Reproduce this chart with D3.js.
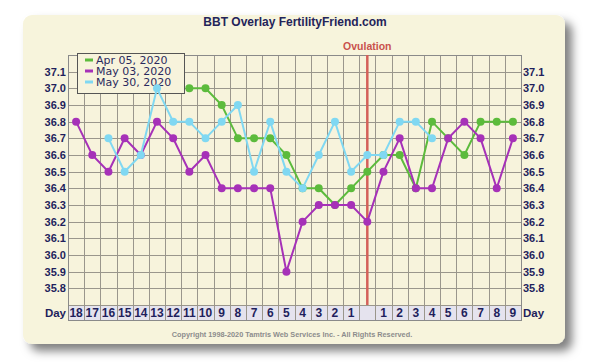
<!DOCTYPE html>
<html>
<head>
<meta charset="utf-8">
<style>
    body { margin: 0; background: #fff; }
    svg { display: block; }
    .ax text { font: bold 11px "Liberation Sans", Arial, sans-serif; fill: #1f1f5c; }
    .day text { font: bold 12px "Liberation Sans", Arial, sans-serif; fill: #1f1f5c; }
</style>
<script src="https://cdn.jsdelivr.net/npm/d3@7"></script>
</head>
<body>
<script>
// day labels, cycle days before / after ovulation
var days = ["18","17","16","15","14","13","12","11","10","9","8","7","6","5","4","3","2","1","","1","2","3","4","5","6","7","8","9"];
var ovulationIdx = 18;
var tempTicks = [35.8, 35.9, 36.0, 36.1, 36.2, 36.3, 36.4, 36.5, 36.6, 36.7, 36.8, 36.9, 37.0, 37.1];

// temps, first entry sits in column "start"
var apr05 = [37.0,37.0,36.9,36.7,36.7,36.7,36.6,36.4,36.4,36.3,36.4,36.5,36.6,36.6,36.4,36.8,36.7,36.6,36.8,36.8,36.8];
var apr05Start = 7;
var may03 = [36.8,36.6,36.5,36.7,36.6,36.8,36.7,36.5,36.6,36.4,36.4,36.4,36.4,35.9,36.2,36.3,36.3,36.3,36.2,36.5,36.7,36.4,36.4,36.7,36.8,36.7,36.4,36.7];
var may03Start = 0;
var may30 = [36.7,36.5,36.6,37.0,36.8,36.8,36.7,36.8,36.9,36.5,36.8,36.5,36.4,36.6,36.8,36.5,36.6,36.6,36.8,36.8,36.7];
var may30Start = 2;

var series = [
    {name: "Apr 05, 2020", color: "#5cbb3c", values: apr05, start: apr05Start},
    {name: "May 03, 2020", color: "#a631b8", values: may03, start: may03Start},
    {name: "May 30, 2020", color: "#80d8f2", values: may30, start: may30Start}
];

var W = 600, H = 362;
var pLeft = 68, pRight = 521, pTop = 55, pBottom = 305;

var svg = d3.select("body").append("svg")
    .attr("width", W)
    .attr("height", H);

var defs = svg.append("defs");
var f = defs.append("filter").attr("id", "shadow")
    .attr("x", "-10%").attr("y", "-10%").attr("width", "125%").attr("height", "125%");
f.append("feDropShadow")
    .attr("dx", 7).attr("dy", 7).attr("stdDeviation", 5)
    .attr("flood-color", "#000").attr("flood-opacity", 0.5);

// card
svg.append("rect")
    .attr("x", 23).attr("y", 15)
    .attr("width", 542).attr("height", 329)
    .attr("rx", 9)
    .attr("fill", "#f7f4dc")
    .attr("filter", "url(#shadow)");

var x = d3.scaleBand()
    .domain(d3.range(days.length))
    .range([pLeft, pRight]);

var y = d3.scaleLinear()
    .domain([35.7, 37.2])
    .range([pBottom, pTop]);

// plot background
svg.append("rect")
    .attr("x", pLeft).attr("y", pTop)
    .attr("width", pRight - pLeft).attr("height", pBottom - pTop)
    .attr("fill", "#f7f3dc");

//grid
var grid = svg.append("g").attr("stroke", "#9a968c").attr("stroke-width", 1);
grid.selectAll("line.h")
    .data(d3.range(357, 373).map(function(v) { return v / 10; }))
    .enter().append("line")
    .attr("x1", pLeft).attr("x2", pRight)
    .attr("y1", function(d) { return Math.round(y(d)) + 0.5; })
    .attr("y2", function(d) { return Math.round(y(d)) + 0.5; });
grid.selectAll("line.v")
    .data(d3.range(days.length + 1))
    .enter().append("line")
    .attr("y1", pTop).attr("y2", pBottom + 15)
    .attr("x1", function(d) { return Math.round(pLeft + d * x.step()) + 0.5; })
    .attr("x2", function(d) { return Math.round(pLeft + d * x.step()) + 0.5; });

// day row
svg.append("rect")
    .attr("x", pLeft + 0.5).attr("y", pBottom + 0.5)
    .attr("width", pRight - pLeft).attr("height", 15)
    .attr("fill", "#e5e3ee")
    .attr("stroke", "#9a968c");
svg.append("g")
    .attr("stroke", "#9a968c")
    .selectAll("line")
    .data(d3.range(1, days.length))
    .enter().append("line")
    .attr("y1", pBottom).attr("y2", pBottom + 15)
    .attr("x1", function(d) { return Math.round(pLeft + d * x.step()) + 0.5; })
    .attr("x2", function(d) { return Math.round(pLeft + d * x.step()) + 0.5; });

var dayAxis = svg.append("g")
    .attr("class", "day")
    .attr("transform", "translate(0," + (pBottom + 1) + ")")
    .call(d3.axisBottom(x).tickSize(0).tickPadding(2).tickFormat(function(i) { return days[i]; }));
dayAxis.select(".domain").remove();

svg.append("g").attr("class", "ax")
    .selectAll("text")
    .data([{x: pLeft - 2, a: "end"}, {x: pRight + 2, a: "start"}])
    .enter().append("text")
    .attr("x", function(d) { return d.x; })
    .attr("y", pBottom + 12)
    .attr("text-anchor", function(d) { return d.a; })
    .style("font-size", "11.5px")
    .text("Day");

// plot border
svg.append("rect")
    .attr("x", pLeft + 0.5).attr("y", pTop + 0.5)
    .attr("width", pRight - pLeft).attr("height", pBottom - pTop + 15)
    .attr("fill", "none")
    .attr("stroke", "#8a8a8a");

// temp axes
var la = svg.append("g").attr("class", "ax")
    .attr("transform", "translate(" + pLeft + ",0)")
    .call(d3.axisLeft(y).tickValues(tempTicks).tickSize(0).tickPadding(2).tickFormat(d3.format(".1f")));
la.select(".domain").remove();
var ra = svg.append("g").attr("class", "ax")
    .attr("transform", "translate(" + pRight + ",0)")
    .call(d3.axisRight(y).tickValues(tempTicks).tickSize(0).tickPadding(2).tickFormat(d3.format(".1f")));
ra.select(".domain").remove();

// legend (under the lines)
var lg = svg.append("g");
lg.append("rect")
    .attr("x", 77.5).attr("y", 53.5)
    .attr("width", 107).attr("height", 40)
    .attr("fill", "#f7f3dc")
    .attr("stroke", "#555");
var li = lg.selectAll("g.item")
    .data(series)
    .enter().append("g")
    .attr("transform", function(d, i) { return "translate(0," + (64 + i * 11) + ")"; });
li.append("line")
    .attr("x1", 85).attr("x2", 93)
    .attr("y1", -4).attr("y2", -4)
    .attr("stroke", function(d) { return d.color; })
    .attr("stroke-width", 3);
li.append("text")
    .attr("x", 96)
    .style("font", "11px 'DejaVu Sans', sans-serif")
    .attr("fill", "#2a2a5e")
    .text(function(d) { return d.name; });

// ovulation
var ox = x(ovulationIdx) + x.bandwidth() / 2;
svg.append("line")
    .attr("x1", ox).attr("x2", ox)
    .attr("y1", pTop).attr("y2", pBottom)
    .attr("stroke", "#d4605a")
    .attr("stroke-width", 2.5);
svg.append("text")
    .attr("x", ox).attr("y", 50)
    .attr("text-anchor", "middle")
    .style("font", "bold 10.5px 'Liberation Sans', Arial, sans-serif")
    .attr("fill", "#c9524c")
    .text("Ovulation");

// lines + dots
var line = d3.line()
    .x(function(d) { return x(d.i) + x.bandwidth() / 2; })
    .y(function(d) { return y(d.v); });

series.forEach(function(s) {
    var pts = s.values.map(function(v, k) { return {i: s.start + k, v: v}; });
    var g = svg.append("g");
    g.append("path")
        .datum(pts)
        .attr("d", line)
        .attr("fill", "none")
        .attr("stroke", s.color)
        .attr("stroke-width", 2);
    g.selectAll("circle")
        .data(pts)
        .enter().append("circle")
        .attr("cx", function(d) { return x(d.i) + x.bandwidth() / 2; })
        .attr("cy", function(d) { return y(d.v); })
        .attr("r", 4)
        .attr("fill", s.color);
});

// title
svg.append("text")
    .attr("x", 295).attr("y", 26)
    .attr("text-anchor", "middle")
    .style("font", "bold 12px 'Liberation Sans', Arial, sans-serif")
    .attr("fill", "#24245a")
    .text("BBT Overlay FertilityFriend.com");

svg.append("text")
    .attr("x", 292).attr("y", 337)
    .attr("text-anchor", "middle")
    .style("font", "bold 7.3px 'Liberation Sans', Arial, sans-serif")
    .attr("fill", "#8c8c8c")
    .text("Copyright 1998-2020 Tamtris Web Services Inc. - All Rights Reserved.");
</script>
</body>
</html>
